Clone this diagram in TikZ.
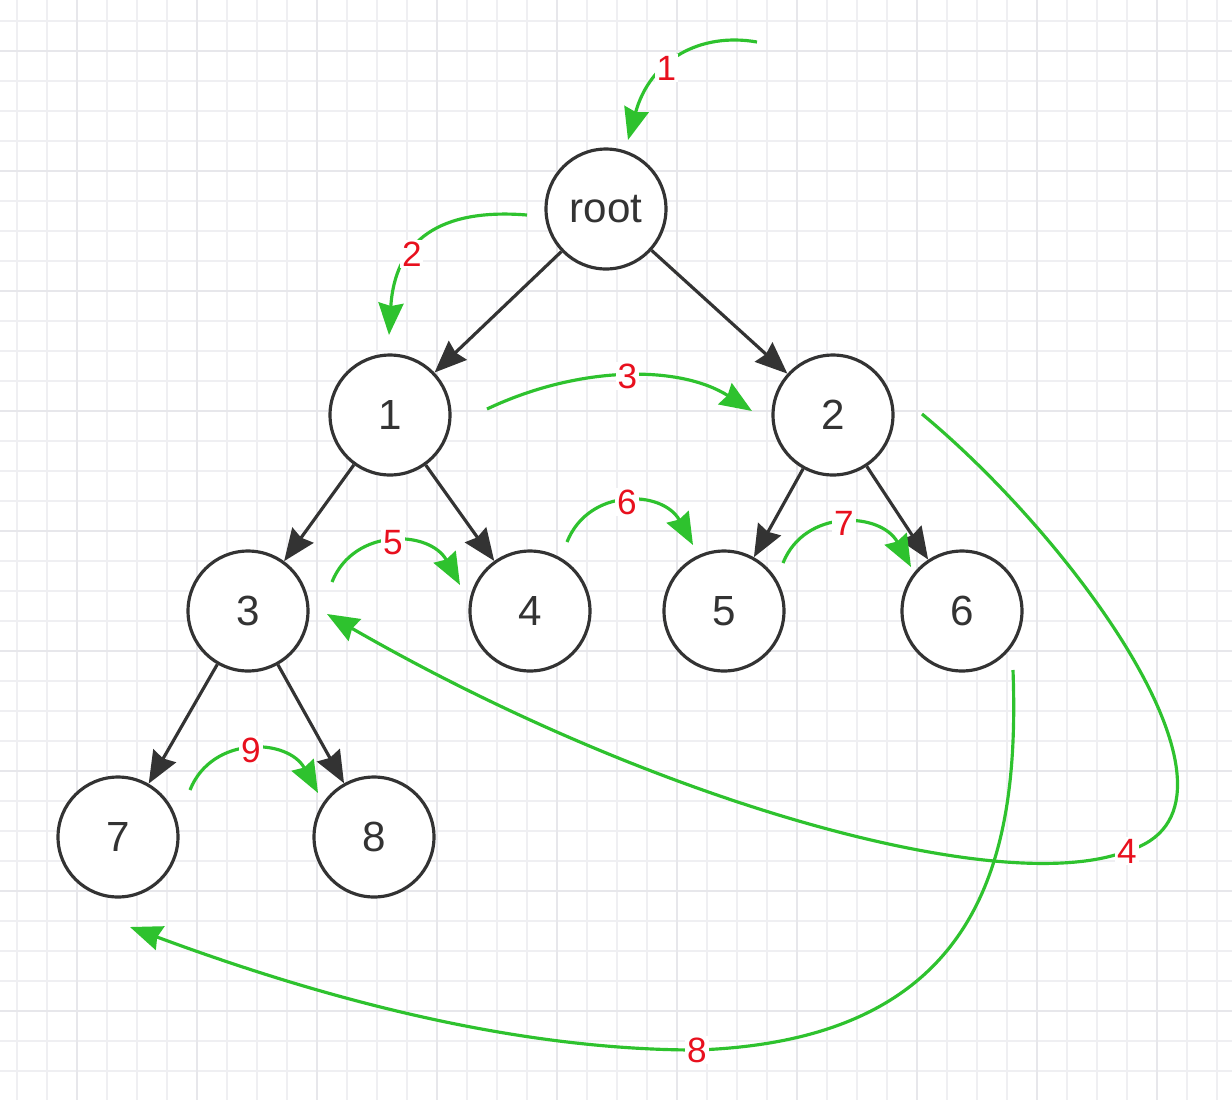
\documentclass[tikz,border=0pt]{standalone}
\usepackage{fontspec}
\setmainfont{Liberation Sans}
\usetikzlibrary{arrows.meta}
\definecolor{nodegray}{HTML}{333333}
\definecolor{walkgreen}{HTML}{2EC22E}
\definecolor{stepred}{HTML}{E8101E}
\definecolor{gridminor}{HTML}{EFEFF2}
\definecolor{gridmajor}{HTML}{E7E7EB}

\begin{document}
\begin{tikzpicture}[
  x=0.02cm, y=-0.02cm,
  font=\fontsize{24}{28}\selectfont,
  vert/.style={draw=nodegray, line width=1.8pt, circle, minimum size=2.4cm, inner sep=0pt, fill=white, text=nodegray},
  link/.style={draw=nodegray, line width=1.8pt, -{Stealth[length=0.64cm, width=0.52cm, inset=0.06cm]}},
  walk/.style={draw=walkgreen, line width=1.8pt, -{Stealth[length=0.64cm, width=0.5cm, inset=0.06cm]}},
  lbl/.style={font=\fontsize{20}{23}\selectfont, text=stepred, fill=white, inner sep=1pt},
]
% --- Grid ---
\useasboundingbox (0,0) rectangle (1232,1100);
\fill[white] (0,0) rectangle (1232,1100);
\foreach \x in {16.7,46.7,...,1232} \draw[gridminor, line width=1pt] (\x,0) -- (\x,1100);
\foreach \y in {20.7,50.7,...,1100} \draw[gridminor, line width=1pt] (0,\y) -- (1232,\y);
\foreach \x in {76.7,196.7,...,1232} \draw[gridmajor, line width=1.2pt] (\x,0) -- (\x,1100);
\foreach \y in {50.7,170.7,...,1100} \draw[gridmajor, line width=1.2pt] (0,\y) -- (1232,\y);

% --- Tree ---
\node[vert] (root) at (606,209) {root};
\node[vert] (n1) at (390,415) {1};
\node[vert] (n2) at (833,415) {2};
\node[vert] (n3) at (248,611) {3};
\node[vert] (n4) at (530,611) {4};
\node[vert] (n5) at (724,611) {5};
\node[vert] (n6) at (962,611) {6};
\node[vert] (n7) at (118,837) {7};
\node[vert] (n8) at (374,837) {8};

\draw[link] (root) -- (n1);
\draw[link] (root) -- (n2);
\draw[link] (n1) -- (n3);
\draw[link] (n1) -- (n4);
\draw[link] (n2) -- (n5);
\draw[link] (n2) -- (n6);
\draw[link] (n3) -- (n7);
\draw[link] (n3) -- (n8);

% --- Visit order ---
\coordinate (a1) at (757,42);   \coordinate (b1) at (628,140);
\coordinate (a2) at (527,215);  \coordinate (b2) at (389,335);
\coordinate (a3) at (487,409);  \coordinate (b3) at (752,411);
\coordinate (a4) at (922,414);  \coordinate (b4) at (327,614);
\coordinate (a5) at (332,582);  \coordinate (b5) at (460,585);
\coordinate (a6) at (567,542);  \coordinate (b6) at (693,545);
\coordinate (a7) at (783,563);  \coordinate (b7) at (911,567);
\coordinate (a8) at (1013,670); \coordinate (b8) at (130,927);
\coordinate (a9) at (190,790);  \coordinate (b9) at (318,793);

\draw[walk] (a1) .. controls (700,32) and (650,60) .. (b1) node[lbl, pos=0.6] {1};
\draw[walk] (a2) .. controls (440,208) and (395,240) .. (b2) node[lbl, pos=0.63] {2};
\draw[walk] (a3) .. controls (580,365) and (680,365) .. (b3) node[lbl, pos=0.5] {3};
\draw[walk] (a4) .. controls (1080,545) and (1270,810) .. (1127,851) node[lbl] {4}
  .. controls (1000,900) and (650,800) .. (b4);
\draw[walk] (a5) .. controls +(22,-55) and +(-30,-55) .. (b5) node[lbl, pos=0.5] {5};
\draw[walk] (a6) .. controls +(22,-55) and +(-30,-55) .. (b6) node[lbl, pos=0.5] {6};
\draw[walk] (a7) .. controls +(22,-55) and +(-30,-55) .. (b7) node[lbl, pos=0.5] {7};
\draw[walk] (a8) .. controls (1020,860) and (980,1040) .. (697,1050) node[lbl] {8}
  .. controls (500,1050) and (300,990) .. (b8);
\draw[walk] (a9) .. controls +(22,-55) and +(-30,-55) .. (b9) node[lbl, pos=0.5] {9};
\end{tikzpicture}
\end{document}
